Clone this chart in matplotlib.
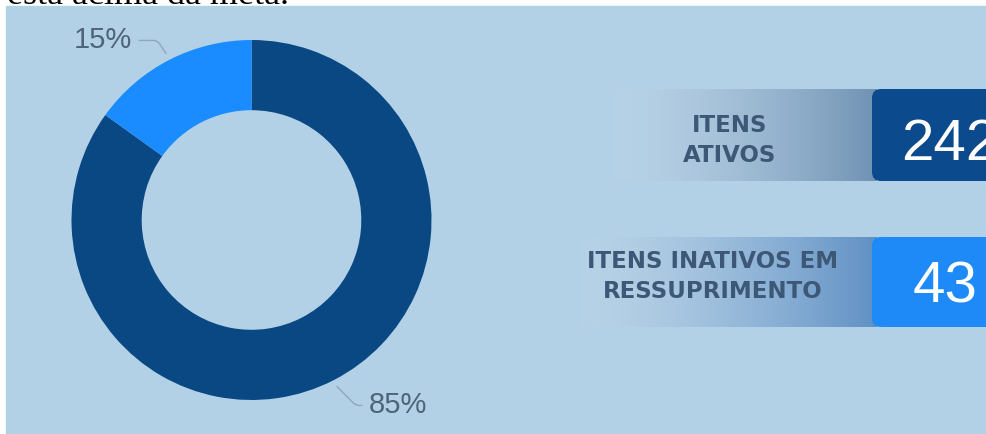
import numpy as np
import matplotlib.pyplot as plt
from matplotlib.patches import Rectangle, FancyBboxPatch
from matplotlib.colors import to_rgb

# dados
kpi_labels = ["ITENS\nATIVOS", "ITENS INATIVOS EM\nRESSUPRIMENTO"]
kpi_values = [242, 43]

# cores
ring_colors = ["#0A4883", "#1A8CFF"]
box_colors = ["#0B4A8C", "#1E8AF7"]
band_colors = ["#7092B3", "#6090C4"]
painel = "#B3D1E6"
cor_texto = "#3D5877"
cor_pct = "#4F6479"

W, H = 986, 435
fig = plt.figure(figsize=(W / 100, H / 100), dpi=100, facecolor="white")
bg = fig.add_axes([0, 0, 1, 1])
bg.set_xlim(0, W)
bg.set_ylim(H, 0)
bg.axis("off")

# resto do texto do documento, cortado no topo
bg.text(7, 4, "está acima da meta.", fontsize=26, family="Liberation Serif",
        color="black", ha="left", va="baseline", zorder=0)

# painel azul claro
bg.add_patch(Rectangle((6, 7), W, H, color=painel, zorder=1))


def faixa(x0, x1, y0, y1, cor_fim):
    t = np.linspace(0, 1, 300)
    c0, c1 = np.array(to_rgb("#B9D3E7")), np.array(to_rgb(cor_fim))
    img = np.zeros((1, t.size, 4))
    img[0, :, :3] = c0 + (c1 - c0) * (t[:, None] ** 1.6)
    img[0, :, 3] = np.clip(t / 0.25, 0, 1)
    bg.imshow(img, extent=(x0, x1, y1, y0), aspect="auto",
              interpolation="bilinear", zorder=2)


# cartões
topos = [90, 238]
alturas = [92, 90]
inicio_faixa = [600, 565]
label_x = [730, 713]
label_base = [132, 268]
valor_x = [950, 945]
valor_base = [160, 303]
box_x = 872

for i, (lbl, val) in enumerate(zip(kpi_labels, kpi_values)):
    y0, h = topos[i], alturas[i]
    faixa(inicio_faixa[i], box_x + 5, y0, y0 + h, band_colors[i])
    bg.add_patch(FancyBboxPatch((box_x, y0), 160, h,
                                boxstyle="round,pad=0,rounding_size=9",
                                facecolor=box_colors[i], edgecolor="none", zorder=3))
    for j, linha in enumerate(lbl.split("\n")):
        bg.text(label_x[i], label_base[i] + 30 * j, linha, fontsize=16.5,
                fontweight="bold", family="DejaVu Sans", color=cor_texto,
                ha="center", va="baseline", zorder=4)
    bg.text(valor_x[i], valor_base[i], str(val), fontsize=42,
            family="Liberation Sans", color="white", ha="center",
            va="baseline", zorder=4)

bg.set_xlim(0, W)
bg.set_ylim(H, 0)

# rosca
cx, cy, r = 251.5, 221, 180
ax = fig.add_axes([(cx - r) / W, (H - cy - r) / H, 2 * r / W, 2 * r / H])
wedges, _ = ax.pie(kpi_values, colors=ring_colors, startangle=90,
                   counterclock=False, radius=1,
                   wedgeprops=dict(width=0.39, linewidth=0))
ax.set_xlim(-1, 1)
ax.set_ylim(-1, 1)
ax.axis("off")

total = sum(kpi_values)
pos_pct = [(0.814, -1.067), (-0.825, 0.961)]
angulo_b = [-45, 124]
rel = [(0, 0.45), (1, 0.45)]
for i, w in enumerate(wedges):
    ang = np.deg2rad((w.theta1 + w.theta2) / 2)
    ponto = (1.04 * np.cos(ang), 1.04 * np.sin(ang))
    ax.annotate(f"{round(100 * kpi_values[i] / total)}%", xy=ponto,
                xytext=pos_pct[i], fontsize=21, family="Liberation Sans",
                color=cor_pct, ha="center", va="baseline",
                annotation_clip=False,
                arrowprops=dict(arrowstyle="-", color="#8FA6BC", lw=1,
                                relpos=rel[i], shrinkA=3, shrinkB=0,
                                connectionstyle=f"angle,angleA=0,angleB={angulo_b[i]},rad=4"))

fig.savefig("out.png", dpi=100)
